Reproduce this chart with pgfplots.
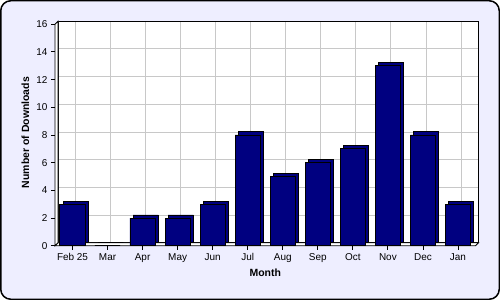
\documentclass[border=0pt]{standalone}
\usepackage{pgfplots}
\pgfplotsset{compat=1.18}
\usepackage{fontspec}
\setmainfont{Liberation Sans}
\definecolor{bg}{HTML}{EEEEFF}
\definecolor{barblue}{HTML}{000080}
\definecolor{gridgray}{HTML}{C8C8C8}
\begin{document}
\begin{tikzpicture}
\useasboundingbox (0,0) rectangle (500bp,300bp);
\draw[fill=bg, draw=black, line width=1.5bp, rounded corners=10bp] (0.75bp,0.75bp) rectangle (499.25bp,299.25bp);
% back wall with grid
\begin{axis}[
  at={(58bp,57.2bp)}, anchor=south west,
  scale only axis, width=420.5bp, height=221.6bp,
  xmin=-0.5, xmax=11.5, ymin=0, ymax=16,
  xtick={0,...,11}, ytick={0,2,...,16},
  xticklabels={}, yticklabels={},
  major tick length=0pt,
  grid=major, grid style={gridgray, line width=0.8bp},
  axis background/.style={fill=white},
  axis line style={black, line width=0.8bp},
]
\end{axis}
% front axis with bars
\begin{axis}[
  at={(55bp,54.2bp)}, anchor=south west,
  scale only axis, width=420.5bp, height=221.6bp,
  xmin=-0.5, xmax=11.5, ymin=0, ymax=16,
  axis x line*=bottom, axis y line*=left,
  axis line style={black, line width=0.8bp},
  xtick={0,...,11},
  xticklabels={Feb 25,Mar,Apr,May,Jun,Jul,Aug,Sep,Oct,Nov,Dec,Jan},
  ytick={0,2,...,16},
  tick align=outside, major tick length=4bp,
  tick style={black, line width=0.8bp},
  tick label style={font=\fontsize{10}{12}\selectfont},
  /pgf/number format/assume math mode=true,
  xlabel={\textbf{Month}}, ylabel={\textbf{Number of Downloads}},
  every axis x label/.style={at={(axis description cs:0.5,-0.122)}, anchor=center, font=\fontsize{10.5}{12}\selectfont\bfseries},
  every axis y label/.style={at={(axis description cs:-0.0702,0.511)}, rotate=90, anchor=center, font=\fontsize{10.5}{12}\selectfont\bfseries},
  clip=false,
]
\draw[fill=white, draw=black, line width=0.8bp] (axis cs:-0.5,0) -- (axis cs:11.5,0) -- ([shift={(3bp,3bp)}]axis cs:11.5,0) -- ([shift={(3bp,3bp)}]axis cs:-0.5,0) -- cycle;
\draw[fill=white, draw=black, line width=0.8bp] (axis cs:-0.5,0) -- (axis cs:-0.5,16) -- ([shift={(3bp,3bp)}]axis cs:-0.5,16) -- ([shift={(3bp,3bp)}]axis cs:-0.5,0) -- cycle;
\addplot[ybar, bar width=0.72, fill=barblue, draw=black, line width=0.7bp, xshift=3.2bp, yshift=3.2bp]
  coordinates {(0,3) (1,0) (2,2) (3,2) (4,3) (5,8) (6,5) (7,6) (8,7) (9,13) (10,8) (11,3)};
\addplot[ybar, bar width=0.72, fill=barblue, draw=black, line width=0.9bp]
  coordinates {(0,3) (1,0) (2,2) (3,2) (4,3) (5,8) (6,5) (7,6) (8,7) (9,13) (10,8) (11,3)};
\end{axis}
\end{tikzpicture}
\end{document}
